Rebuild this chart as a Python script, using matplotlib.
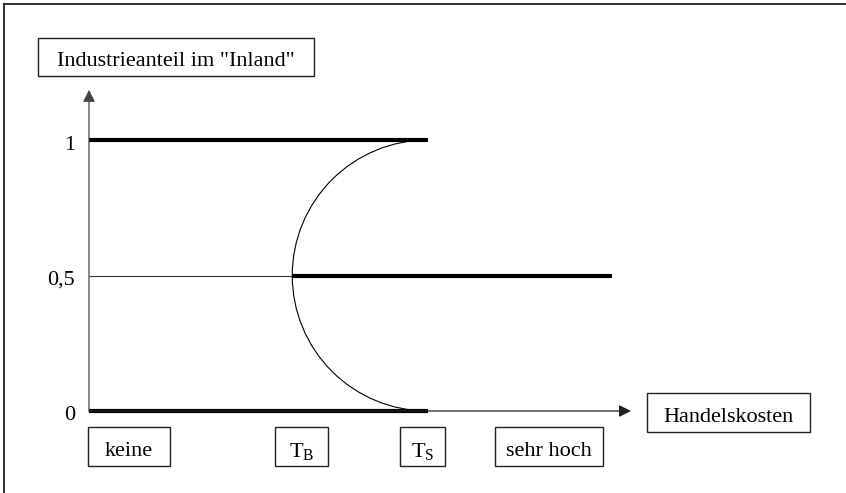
import matplotlib
matplotlib.use("Agg")
import matplotlib.pyplot as plt
from matplotlib.patches import Arc, Rectangle

plt.rcParams['font.family'] = ['Liberation Serif', 'DejaVu Serif']
plt.rcParams['mathtext.fontset'] = 'custom'
plt.rcParams['mathtext.rm'] = 'Liberation Serif'
plt.rcParams['mathtext.it'] = 'Liberation Serif'

# ---- data ----
y_ticks = [0, 0.5, 1]
y_tick_labels = ["0", "0,5", "1"]
x_categories = ["keine", r"T$_\mathrm{B}$", r"T$_\mathrm{S}$", "sehr hoch"]
y_axis_label = 'Industrieanteil im "Inland"'
x_axis_label = "Handelskosten"
T_B = 0.75          # break point
T_S = 1.25          # sustain point
x_end = 1.93        # end of symmetric equilibrium line
x_axis_end = 2.0
y_axis_end = 1.185
agglom_shares = [0, 1]   # stable core-periphery equilibria
sym_share = 0.5          # symmetric equilibrium

# ---- figure ----
W, H = 846, 493
DPI = 100
fig = plt.figure(figsize=(W / DPI, H / DPI), dpi=DPI)
ax = fig.add_axes([0, 0, 1, 1])
u = 271.0       # pixels per data unit
x0_px, y0_px = 89.0, 411.0
ax.set_xlim(-x0_px / u, (W - x0_px) / u)
ax.set_ylim(-(H - y0_px) / u, y0_px / u)
ax.axis('off')

def px(x, y):
    """pixel coords (from top-left) -> figure fraction"""
    return x / W, 1 - y / H

# outer frame (left and top)
fig.add_artist(plt.Line2D([4 / W, 4 / W], [0, 1 - 4 / H], color='#222222', lw=1.3))
fig.add_artist(plt.Line2D([4 / W, 1], [1 - 4 / H, 1 - 4 / H], color='#222222', lw=1.3))

# axes with arrows
arrow_kw = dict(arrowstyle='-|>,head_length=0.4,head_width=0.2', mutation_scale=18,
                lw=0.9, color='#333333', shrinkA=0, shrinkB=0)
ax.annotate('', xy=(0, y_axis_end), xytext=(0, 0), arrowprops=dict(arrow_kw, color='#444444'))
ax.annotate('', xy=(x_axis_end, 0), xytext=(0, 0), arrowprops=dict(arrow_kw, color='#222222'))

# unstable symmetric equilibrium (thin)
ax.plot([0, T_B], [sym_share, sym_share], color='#333333', lw=0.8, solid_capstyle='butt')
# stable symmetric equilibrium (thick)
ax.plot([T_B, x_end], [sym_share, sym_share], color='black', lw=3, solid_capstyle='butt')
# stable agglomeration equilibria (thick)
for s in agglom_shares:
    ax.plot([0, T_S], [s, s], color='black', lw=3, solid_capstyle='butt')

# unstable asymmetric equilibria (arc)
ax.add_patch(Arc((T_S, sym_share), 2 * (T_S - T_B), agglom_shares[1] - agglom_shares[0],
                 theta1=90, theta2=270, color='black', lw=0.8))

# y tick labels
for v, lab in zip(y_ticks, y_tick_labels):
    ax.text(-14 / u, v - 9.5 / u, lab, ha='right', va='baseline', fontsize=16)

# boxes
def box(x1, y1, x2, y2, text):
    fx1, fy1 = px(x1, y2)
    fx2, fy2 = px(x2, y1)
    fig.add_artist(Rectangle((fx1, fy1), fx2 - fx1, fy2 - fy1, transform=fig.transFigure,
                             fill=False, edgecolor='#222222', lw=1.0))
    cx, cy = px((x1 + x2) / 2, y2 - 9.5)
    fig.text(cx, cy, text, ha='center', va='baseline', fontsize=16)

box(38, 38, 314, 76, y_axis_label)
box(647, 393, 810, 432, x_axis_label)
cat_boxes = [(88, 170), (275, 328), (400, 445), (495, 603)]
for (a, b), lab in zip(cat_boxes, x_categories):
    box(a, 427, b, 466, lab)

fig.savefig("out.png", dpi=DPI)
